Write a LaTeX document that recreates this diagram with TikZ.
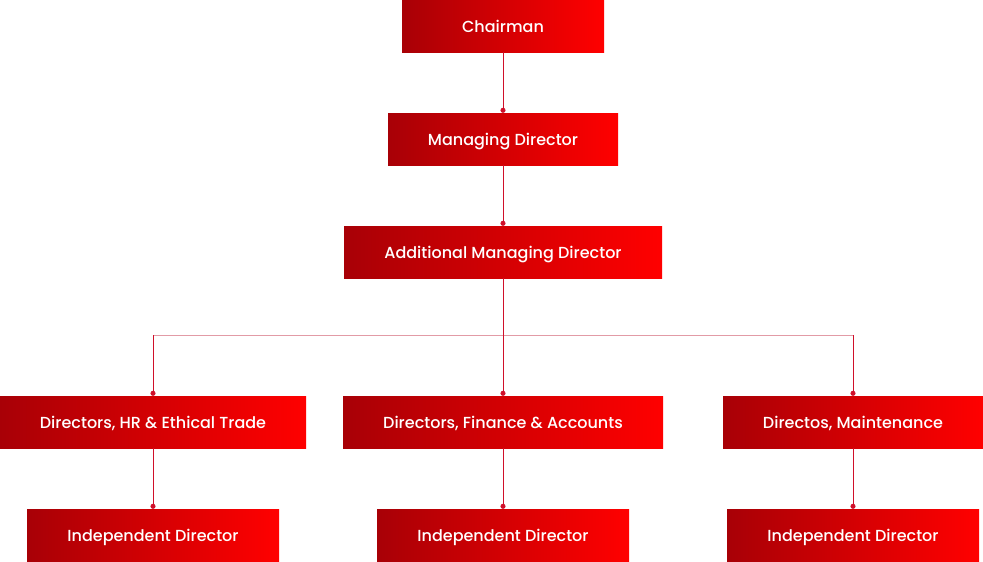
\documentclass[tikz,border=0pt]{standalone}
\usepackage{fontspec}
\setmainfont{Poppins Medium}
\usetikzlibrary{arrows.meta}
\definecolor{boxdark}{HTML}{A80006}
\definecolor{boxlight}{HTML}{FF0000}
\definecolor{linkred}{HTML}{D0102A}
\definecolor{buspink}{HTML}{E29BA6}
\begin{document}
\begin{tikzpicture}[
  x=1pt, y=-1pt,
  box/.style={left color=boxdark, right color=boxlight, text=white, minimum height=52pt,
    inner sep=0pt, text depth=0pt, font=\fontsize{16}{19}\selectfont},
  link/.style={draw=linkred, line width=0.9pt, -{Circle[length=5pt]}}
]
\useasboundingbox (0,0) rectangle (983,562);
\node[box, minimum width=202pt] (chair) at (503,26) {Chairman};
\node[box, minimum width=230pt] (md) at (503,139) {Managing Director};
\node[box, minimum width=318pt] (amd) at (503,252) {Additional Managing Director};
\node[box, minimum width=306pt] (hr) at (153,422) {Directors, HR \& Ethical Trade};
\node[box, minimum width=320pt] (fin) at (503,422) {Directors, Finance \& Accounts};
\node[box, minimum width=260pt] (mnt) at (853,422) {Directos, Maintenance};
\node[box, minimum width=252pt] (ind1) at (153,535) {Independent Director};
\node[box, minimum width=252pt] (ind2) at (503,535) {Independent Director};
\node[box, minimum width=252pt] (ind3) at (853,535) {Independent Director};
% bus between the middle rows
\coordinate (busL) at (153,335);
\coordinate (busR) at (853,335);
\draw[draw=buspink, line width=0.9pt] (busL) -- (busR);
\draw[link] (chair) -- (md);
\draw[link] (md) -- (amd);
\draw[link] (amd) -- (fin);
\draw[link] (busL) -- (hr);
\draw[link] (busR) -- (mnt);
\draw[link] (hr) -- (ind1);
\draw[link] (fin) -- (ind2);
\draw[link] (mnt) -- (ind3);
\end{tikzpicture}
\end{document}
